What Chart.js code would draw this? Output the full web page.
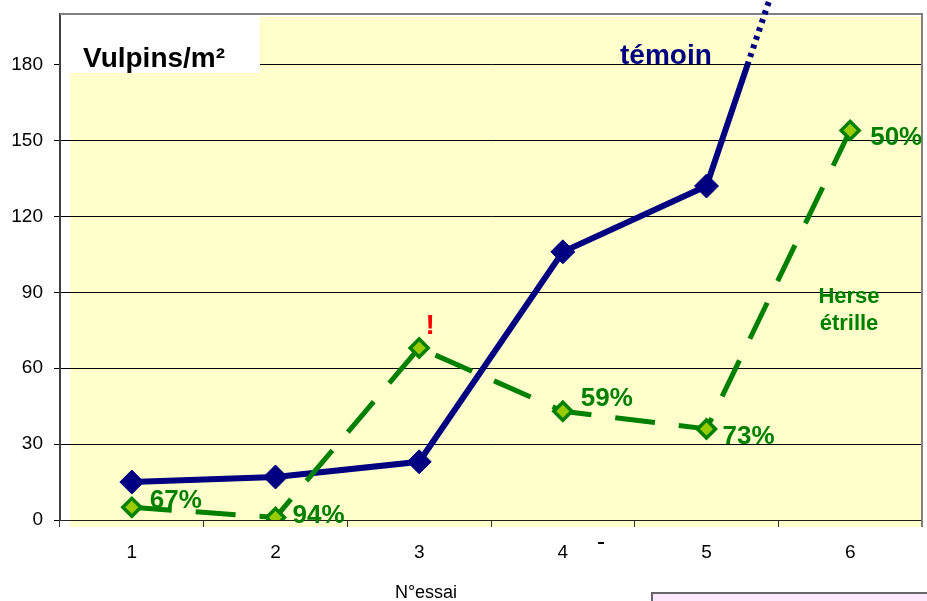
<!DOCTYPE html>
<html>
<head>
<meta charset="utf-8">
<script src="https://cdn.jsdelivr.net/npm/chart.js@4.4.0/dist/chart.umd.min.js"></script>
<style>
  html, body { margin: 0; padding: 0; background: #fff; }
  canvas { display: block; }
</style>
</head>
<body>
<canvas id="chart" width="927" height="601"></canvas>
<script>
// données
const essais = ["1", "2", "3", "4", "5", "6"];
const temoin = [15, 17, 23, 106, 132, 300];
const herseEtrille = [5, 1, 68, 43, 36, 154];
const efficacite = ["67%", "94%", "", "59%", "73%", "50%"];
const yTicks = [0, 30, 60, 90, 120, 150, 180];

// décalage des étiquettes % par rapport au point (x, y)
const labelShift = [[18, 1], [17, 6], [0, 0], [18, -5], [16, 15], [20, 15]];

const FONT = "'Liberation Sans', Arial, sans-serif";
const NAVY = "#000080";
const GREEN = "#008000";

// fond jaune, cadre, encadré du titre
const decor = {
  id: "decor",
  beforeDraw(chart) {
    const { ctx, chartArea: a } = chart;
    ctx.save();
    ctx.fillStyle = "#FFFFCC";
    ctx.fillRect(a.left + 10, a.top + 3, a.right - a.left - 10, a.bottom - a.top + 4);
    ctx.restore();
  },
  beforeDatasetsDraw(chart) {
    const { ctx, chartArea: a } = chart;
    ctx.save();
    // cadre gris haut / droite
    ctx.strokeStyle = "#808080";
    ctx.lineWidth = 2;
    ctx.beginPath();
    ctx.moveTo(a.left, a.top);
    ctx.lineTo(a.right, a.top);
    ctx.lineTo(a.right, a.bottom + 7);
    ctx.stroke();
    // encadré blanc "Vulpins/m²"
    ctx.fillStyle = "#fff";
    ctx.fillRect(a.left + 1, a.top + 3, 199, 56);
    ctx.fillStyle = "#000";
    ctx.font = "bold 28px " + FONT;
    ctx.textAlign = "left";
    ctx.textBaseline = "alphabetic";
    ctx.fillText("Vulpins/m²", 83, 67);
    ctx.restore();
  },
  afterDatasetsDraw(chart) {
    const { ctx } = chart;
    const meta = chart.getDatasetMeta(0);
    ctx.save();
    // pourcentages d'efficacité
    ctx.fillStyle = GREEN;
    ctx.font = "bold 26px " + FONT;
    ctx.textAlign = "left";
    ctx.textBaseline = "alphabetic";
    efficacite.forEach((txt, i) => {
      if (!txt) return;
      const p = meta.data[i];
      ctx.fillText(txt, p.x + labelShift[i][0], p.y + labelShift[i][1]);
    });
    // point d'exclamation sur l'essai 3
    const p3 = meta.data[2];
    ctx.fillStyle = "#FF0000";
    ctx.font = "bold 28px " + FONT;
    ctx.textAlign = "center";
    ctx.fillText("!", p3.x + 11, p3.y - 14);
    // noms des séries
    ctx.fillStyle = NAVY;
    ctx.font = "bold 28px " + FONT;
    ctx.textAlign = "left";
    ctx.fillText("témoin", 620, 64);
    ctx.fillStyle = GREEN;
    ctx.font = "bold 22px " + FONT;
    ctx.textAlign = "center";
    ctx.fillText("Herse", 849, 303);
    ctx.fillText("étrille", 849, 330);
    // titre de l'axe X
    ctx.fillStyle = "#000";
    ctx.font = "18px " + FONT;
    ctx.textAlign = "center";
    ctx.fillText("N°essai", 426, 598);
    ctx.fillRect(598, 542, 6, 2);
    // encadré rose en bas à droite
    ctx.fillStyle = "#FDE8FD";
    ctx.fillRect(652, 594, 280, 10);
    ctx.strokeStyle = "#666";
    ctx.lineWidth = 2;
    ctx.beginPath();
    ctx.moveTo(652, 605);
    ctx.lineTo(652, 593);
    ctx.lineTo(930, 593);
    ctx.stroke();
    ctx.restore();
  }
};

// la courbe témoin : trait plein sous 180, pointillé au-dessus
const splitTemoin = {
  id: "splitTemoin",
  beforeDatasetDraw(chart, args) {
    const part = chart.data.datasets[args.index].part;
    if (!part) return;
    const { ctx } = chart;
    const y180 = chart.scales.y.getPixelForValue(180);
    ctx.save();
    ctx.beginPath();
    if (part === "solid") ctx.rect(0, y180, chart.width, chart.height - y180);
    else ctx.rect(0, 0, chart.width, y180);
    ctx.clip();
  },
  afterDatasetDraw(chart, args) {
    if (chart.data.datasets[args.index].part) chart.ctx.restore();
  }
};

new Chart(document.getElementById("chart"), {
  type: "line",
  data: {
    labels: essais,
    datasets: [
      {
        label: "Herse étrille",
        data: herseEtrille,
        borderColor: GREEN,
        borderWidth: 5,
        borderDash: [40, 24],
        borderCapStyle: "butt",
        tension: 0,
        pointStyle: "rectRot",
        pointRadius: 9,
        pointBorderWidth: 3.5,
        pointBackgroundColor: "#99CC00",
        pointBorderColor: GREEN
      },
      {
        label: "témoin",
        part: "solid",
        data: temoin,
        borderColor: NAVY,
        borderWidth: 6,
        tension: 0,
        clip: false,
        pointStyle: "rectRot",
        pointRadius: 12,
        pointBorderWidth: 1,
        pointBackgroundColor: NAVY,
        pointBorderColor: NAVY
      },
      {
        label: "témoin (suite)",
        part: "dotted",
        data: temoin,
        borderColor: NAVY,
        borderWidth: 6,
        borderDash: [4, 5],
        borderCapStyle: "butt",
        tension: 0,
        clip: false,
        pointRadius: 0
      }
    ]
  },
  options: {
    responsive: false,
    animation: false,
    events: [],
    layout: { autoPadding: false, padding: { top: 14, right: 5, left: 0, bottom: 0 } },
    plugins: {
      legend: { display: false },
      tooltip: { enabled: false }
    },
    scales: {
      x: {
        offset: true,
        afterFit: (s) => {
          s.height = 81;
          s.paddingLeft = 0;
          s.paddingRight = 0;
        },
        grid: {
          offset: true,
          drawOnChartArea: false,
          drawTicks: true,
          tickLength: 7,
          color: "#333"
        },
        border: { color: "#222", width: 1 },
        ticks: {
          color: "#000",
          padding: 14,
          font: { family: FONT, size: 19 }
        }
      },
      y: {
        min: 0,
        max: 200,
        afterFit: (s) => {
          s.width = 60;
          s.paddingTop = 0;
          s.paddingBottom = 0;
        },
        afterBuildTicks: (s) => { s.ticks = yTicks.map((v) => ({ value: v })); },
        grid: {
          color: "#000",
          lineWidth: 1,
          tickLength: 6
        },
        border: { color: "#404040", width: 2 },
        ticks: {
          color: "#000",
          padding: 11,
          font: { family: FONT, size: 19 }
        }
      }
    }
  },
  plugins: [decor, splitTemoin]
});
</script>
</body>
</html>
